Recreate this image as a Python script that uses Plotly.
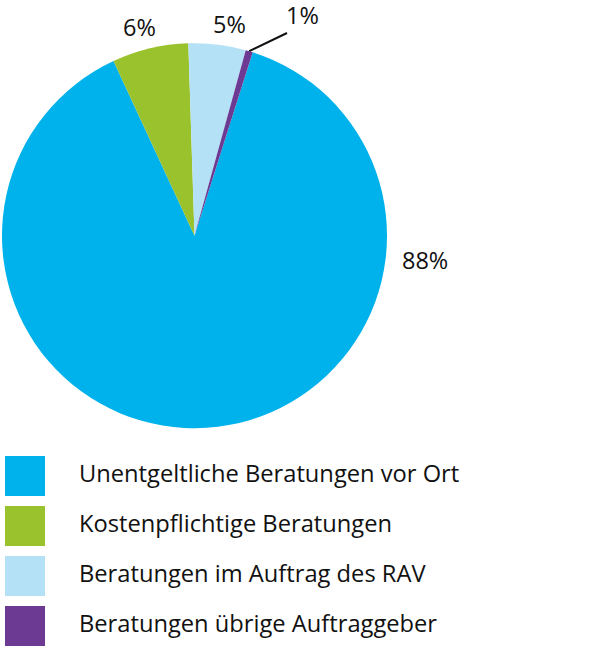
import math
import plotly.graph_objects as go

# ---- data ----
categories = [
    "Unentgeltliche Beratungen vor Ort",
    "Kostenpflichtige Beratungen",
    "Beratungen im Auftrag des RAV",
    "Beratungen übrige Auftraggeber",
]
values = [88.2, 6.4, 4.8, 0.6]
pct_labels = ["88%", "6%", "5%", "1%"]
colors = ["#00B2EB", "#9AC22D", "#B4E1F6", "#6C3A92"]

W, H = 600, 652
FONT = "Open Sans"

# pie geometry (layout)
cx, cy, r = 194.5, 235.7, 192.5
total = sum(values)
# first slice (blue) starts right after the small purple slice, clockwise
rotation = 17.6

fig = go.Figure()
fig.add_trace(go.Pie(
    labels=categories,
    values=values,
    marker=dict(colors=colors, line=dict(width=0)),
    sort=False,
    direction="clockwise",
    rotation=rotation,
    textinfo="none",
    hoverinfo="label+percent",
    showlegend=False,
    domain=dict(x=[(cx - r) / W, (cx + r) / W], y=[1 - (cy + r) / H, 1 - (cy - r) / H]),
))

# legend built as markers + text on a pixel-unit axis
row_y = [476 + 50 * i for i in range(len(categories))]
fig.add_trace(go.Scatter(
    x=[25] * len(categories), y=row_y, mode="markers",
    marker=dict(symbol="square", size=40, color=colors, line=dict(width=0)),
    hoverinfo="skip", showlegend=False, xaxis="x", yaxis="y",
))
fig.add_trace(go.Scatter(
    x=[79] * len(categories), y=row_y, mode="text", text=categories,
    textposition="middle right",
    textfont=dict(family=FONT, size=23.7, color="#111111"),
    hoverinfo="skip", showlegend=False, xaxis="x", yaxis="y",
))

# percentage label positions (layout)
label_pos = {"88%": (425, 260), "6%": (139, 27), "5%": (229, 24), "1%": (302, 15)}
annotations = []
for lab in pct_labels:
    x, y = label_pos[lab]
    annotations.append(dict(x=x, y=y, xref="x", yref="y", text=lab, showarrow=False,
                            font=dict(family=FONT, size=23.5, color="#111111"),
                            xanchor="center", yanchor="middle"))

# leader line for the smallest slice, starting at its mid-angle on the rim
purple_mid = math.radians(rotation - values[3] / total * 180)
sx = cx + r * math.sin(purple_mid)
sy = cy - r * math.cos(purple_mid)
shapes = [dict(type="line", xref="x", yref="y", x0=sx, y0=sy, x1=287, y1=33,
               line=dict(color="#111111", width=2))]

fig.update_layout(
    width=W, height=H,
    margin=dict(l=0, r=0, t=0, b=0),
    paper_bgcolor="white", plot_bgcolor="rgba(0,0,0,0)",
    xaxis=dict(range=[0, W], domain=[0, 1], visible=False, fixedrange=True),
    yaxis=dict(range=[H, 0], domain=[0, 1], visible=False, fixedrange=True),
    annotations=annotations, shapes=shapes,
    font=dict(family=FONT),
)
fig.write_html("out.html")
